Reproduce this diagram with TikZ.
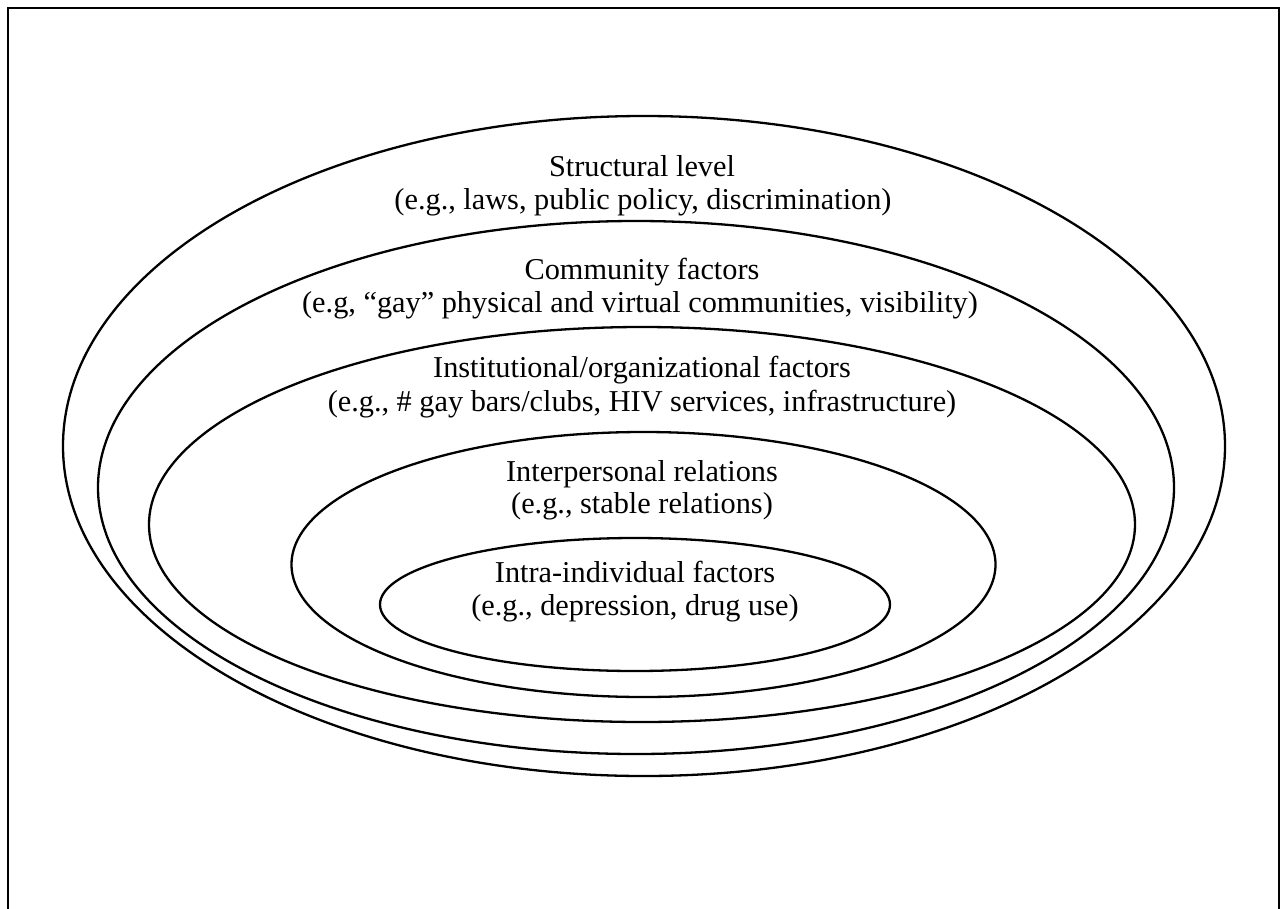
\documentclass[tikz,border=0pt]{standalone}
\usepackage{fontspec}
\setmainfont{Liberation Serif}
\begin{document}
\begin{tikzpicture}[x=1pt,y=-1pt,
  ring/.style={line width=2.3pt},
  frame/.style={line width=2.6pt},
  lbl/.style={anchor=base,inner sep=0pt,font=\fontsize{30.3}{34}\selectfont}]
\useasboundingbox (0,0) rectangle (1285,908);
\draw[frame] (8,930) -- (8,8) -- (1279,8) -- (1279,930);
% rings
\draw[ring] (644,446) ellipse [x radius=581pt, y radius=330pt];
\draw[ring] (636,487.5) ellipse [x radius=538pt, y radius=266.5pt];
\draw[ring] (642,524.5) ellipse [x radius=493pt, y radius=197.5pt];
\draw[ring] (643.5,564.5) ellipse [x radius=352pt, y radius=132.5pt];
\draw[ring] (635,604.5) ellipse [x radius=255pt, y radius=66.5pt];
% labels
\node[lbl] (s1) at (642,176) {Structural level};
\node[lbl] (s2) at (643,209.5) {(e.g., laws, public policy, discrimination)};
\node[lbl] (c1) at (642,279.5) {Community factors};
\node[lbl] (c2) at (640,312.5) {(e.g, “gay” physical and virtual communities, visibility)};
\node[lbl] (i1) at (642,377.5) {Institutional/organizational factors};
\node[lbl] (i2) at (642,411.5) {(e.g., \# gay bars/clubs, HIV services, infrastructure)};
\node[lbl] (p1) at (642,481.5) {Interpersonal relations};
\node[lbl] (p2) at (642,513.5) {(e.g., stable relations)};
\node[lbl] (n1) at (635,582.5) {Intra-individual factors};
\node[lbl] (n2) at (635,615.5) {(e.g., depression, drug use)};
\end{tikzpicture}
\end{document}
